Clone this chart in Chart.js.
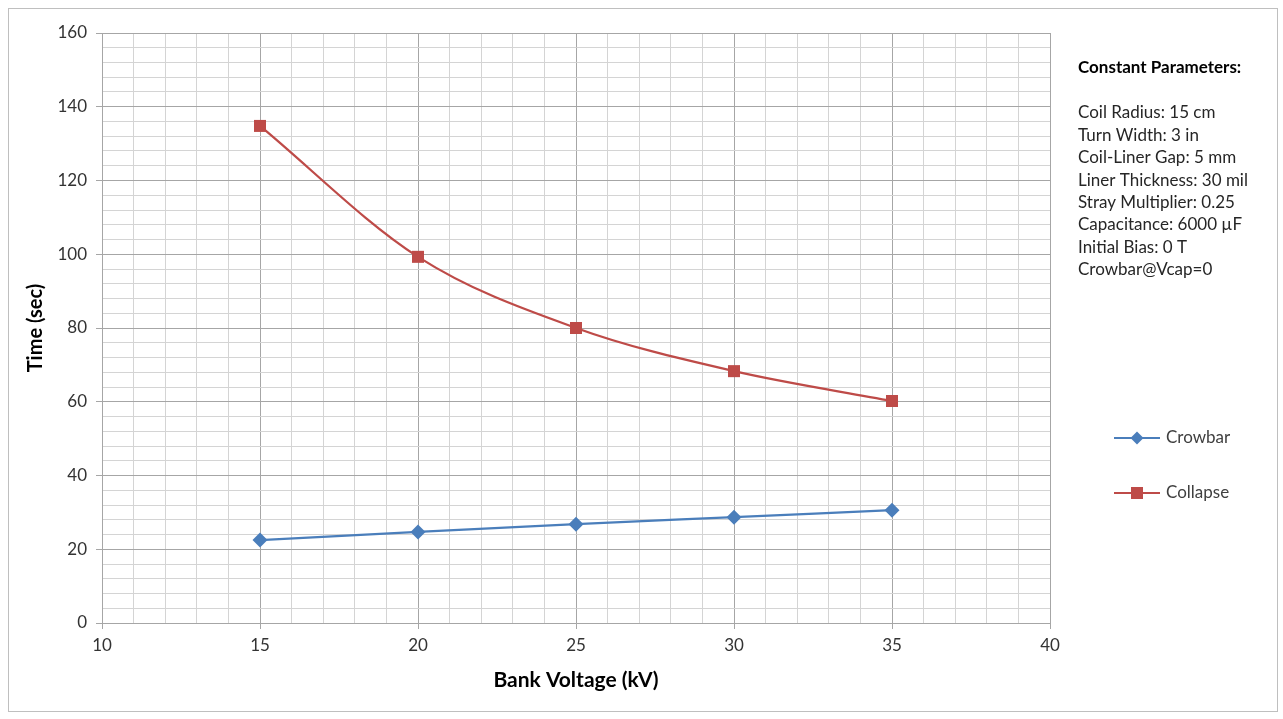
<!DOCTYPE html>
<html>
<head>
<meta charset="utf-8">
<script src="https://cdn.jsdelivr.net/npm/chart.js@4"></script>
<style>
  html, body { margin: 0; padding: 0; background: #fff; }
  #wrap { position: absolute; left: 0; top: 0; width: 1283px; height: 719px; }
</style>
</head>
<body>
<div id="wrap"><canvas id="chart" width="1283" height="719"></canvas></div>
<script>
// --- DATA ---
const voltages = [15, 20, 25, 30, 35];
const crowbarTimes = [22.5, 24.7, 26.8, 28.7, 30.6];
const collapseTimes = [134.8, 99.3, 80.0, 68.3, 60.2];
const seriesNames = ['Crowbar', 'Collapse'];
const paramTitle = 'Constant Parameters:';
const paramLines = [
    'Coil Radius: 15 cm',
    'Turn Width: 3 in',
    'Coil-Liner Gap: 5 mm',
    'Liner Thickness: 30 mil',
    'Stray Multiplier: 0.25',
    'Capacitance: 6000 \u00B5F',
    'Initial Bias: 0 T',
    'Crowbar@Vcap=0'
];

// --- STYLE ---
const FONT = 'Lato, "Open Sans", sans-serif';
const BLUE = '#4a7ebb';
const RED = '#be4b48';
const MAJOR = '#a6a6a6';
const MINOR = '#d4d4d4';

function toPoints(ys) {
    return voltages.map((x, i) => ({ x: x, y: ys[i] }));
}

// side panel: parameter text + legend, drawn on the canvas
const sidePanel = {
    id: 'sidePanel',
    afterDraw(chart) {
        const ctx = chart.ctx;
        ctx.save();
        // outer frame
        ctx.strokeStyle = '#bfbfbf';
        ctx.lineWidth = 1;
        ctx.strokeRect(8.5, 8.5, 1269, 703);

        ctx.fillStyle = '#000';
        ctx.textBaseline = 'middle';
        ctx.font = 'bold 17px ' + FONT;
        ctx.fillText(paramTitle, 1078, 68);
        ctx.font = '17px ' + FONT;
        ctx.fillStyle = '#262626';
        paramLines.forEach((t, i) => ctx.fillText(t, 1078, 113 + i * 22.4));

        // legend
        const rows = [438, 493];
        chart.data.datasets.forEach((ds, i) => {
            const y = rows[i];
            ctx.strokeStyle = ds.borderColor;
            ctx.lineWidth = 2;
            ctx.beginPath();
            ctx.moveTo(1114, y);
            ctx.lineTo(1160, y);
            ctx.stroke();
            ctx.fillStyle = ds.backgroundColor;
            ctx.beginPath();
            if (ds.pointStyle === 'rectRot') {
                ctx.moveTo(1137, y - 6.5); ctx.lineTo(1143.5, y);
                ctx.lineTo(1137, y + 6.5); ctx.lineTo(1130.5, y);
            } else {
                ctx.rect(1131, y - 6, 12, 12);
            }
            ctx.closePath();
            ctx.fill();
            ctx.fillStyle = '#404040';
            ctx.font = '17px ' + FONT;
            ctx.fillText(ds.label, 1166, y);
        });
        ctx.restore();
    }
};

function gridColor(ctx, step) {
    const v = ctx.tick ? ctx.tick.value : 0;
    return Math.abs(v % step) < 1e-6 ? MAJOR : MINOR;
}
function tickColor(ctx, step) {
    const v = ctx.tick ? ctx.tick.value : 0;
    return Math.abs(v % step) < 1e-6 ? MAJOR : 'rgba(0,0,0,0)';
}

new Chart(document.getElementById('chart'), {
    type: 'line',
    data: {
        datasets: [{
            label: seriesNames[0],
            data: toPoints(crowbarTimes),
            borderColor: BLUE,
            backgroundColor: BLUE,
            borderWidth: 2.25,
            pointStyle: 'rectRot',
            pointRadius: 7.5,
            pointHoverRadius: 7.5,
            pointBorderWidth: 0,
            cubicInterpolationMode: 'monotone'
        }, {
            label: seriesNames[1],
            data: toPoints(collapseTimes),
            borderColor: RED,
            backgroundColor: RED,
            borderWidth: 2.25,
            pointStyle: 'rect',
            pointRadius: 8.5,
            pointHoverRadius: 8.5,
            pointBorderWidth: 0,
            cubicInterpolationMode: 'monotone'
        }]
    },
    options: {
        responsive: false,
        animation: false,
        layout: { padding: { left: 20, top: 33, right: 233, bottom: 22 } },
        plugins: { legend: { display: false }, tooltip: { enabled: false } },
        scales: {
            x: {
                type: 'linear',
                min: 10, max: 40,
                afterFit(s) { s.height = 74; },
                border: { color: MAJOR, width: 1 },
                grid: {
                    color: c => gridColor(c, 5),
                    tickColor: c => tickColor(c, 5),
                    tickLength: 6,
                    lineWidth: 1
                },
                ticks: {
                    stepSize: 1,
                    autoSkip: false,
                    maxRotation: 0,
                    padding: 6,
                    color: '#333333',
                    font: { family: FONT, size: 17 },
                    callback: v => (v % 5 === 0 ? v : '')
                },
                title: {
                    display: true,
                    text: 'Bank Voltage (kV)',
                    color: '#000',
                    font: { family: FONT, size: 21, weight: 'bold' },
                    padding: { top: 10 }
                }
            },
            y: {
                min: 0, max: 160,
                afterFit(s) { s.width = 82; },
                border: { color: MAJOR, width: 1 },
                grid: {
                    color: c => gridColor(c, 20),
                    tickColor: c => tickColor(c, 20),
                    tickLength: 6,
                    lineWidth: 1
                },
                ticks: {
                    stepSize: 4,
                    autoSkip: false,
                    padding: 9,
                    color: '#333333',
                    font: { family: FONT, size: 17 },
                    callback: v => (v % 20 === 0 ? v : '')
                },
                title: {
                    display: true,
                    text: 'Time (sec)',
                    color: '#000',
                    font: { family: FONT, size: 20, weight: 'bold' },
                    padding: { bottom: 4 }
                }
            }
        }
    },
    plugins: [sidePanel]
});
</script>
</body>
</html>
